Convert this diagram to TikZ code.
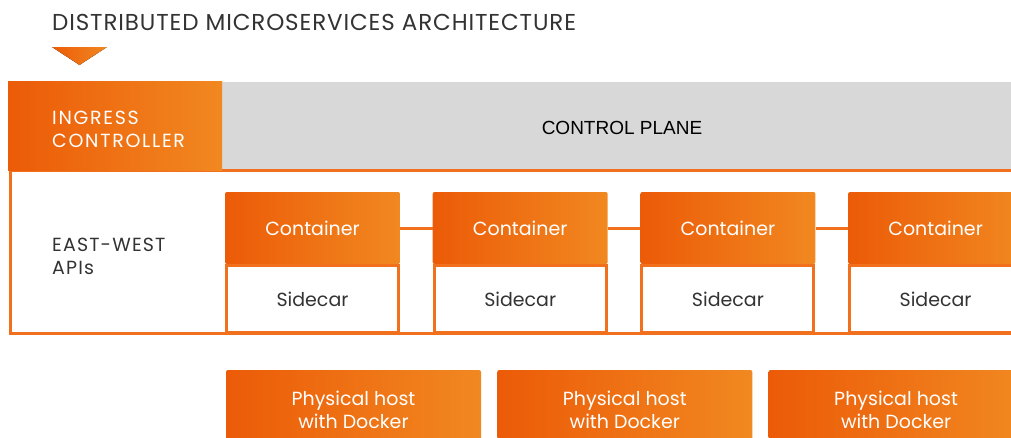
\documentclass[tikz,border=0pt]{standalone}
\usepackage{fontspec}
\setmainfont{Poppins}
\newfontfamily\planefont{Liberation Sans}
\usetikzlibrary{positioning}
\definecolor{darkorange}{RGB}{236,91,8}
\definecolor{lightorange}{RGB}{241,136,32}
\definecolor{lineorange}{RGB}{240,112,30}
\definecolor{planegray}{RGB}{216,216,216}
\definecolor{textgray}{RGB}{51,51,51}

\tikzset{
  orangefill/.style={left color=darkorange, right color=lightorange, inner sep=0pt},
  containerbox/.style={orangefill, rounded corners=2pt, minimum width=175pt, minimum height=72pt,
    text=white, font=\fontsize{19}{22}\selectfont},
  sidecarbox/.style={draw=lineorange, line width=3pt, fill=white,
    minimum width=172pt, minimum height=67pt, inner sep=0pt, text=textgray,
    font=\fontsize{19}{22}\selectfont},
  hostbox/.style={orangefill, rounded corners=2pt, minimum width=255pt, minimum height=80pt,
    align=center, text=white, font=\fontsize{19}{23}\selectfont},
  capslabel/.style={anchor=west, align=left, inner sep=0pt,
    font=\fontsize{19}{23}\selectfont\addfontfeature{LetterSpace=#1}},
  link/.style={lineorange, line width=3pt}
}

\begin{document}
\begin{tikzpicture}[x=1pt,y=-1pt]
  \useasboundingbox (0,0) rectangle (1011,437);
  \clip (0,0) rectangle (1011,437);

  % Title and marker
  \node[anchor=base west, inner sep=0pt, text=textgray,
    font=\fontsize{23}{26}\selectfont\addfontfeature{LetterSpace=3.8}]
    (title) at (52,30) {DISTRIBUTED MICROSERVICES ARCHITECTURE};
  \fill[orangefill] (52,47) -- (107,47) -- (79.5,65) -- cycle;

  % Outer frame
  \node[draw=lineorange, line width=3pt, minimum width=1030pt, minimum height=163pt]
    (frame) at (525,251.5) {};

  % Top band
  \node[fill=planegray, minimum width=800pt, minimum height=88pt, inner sep=0pt] (plane) at (622,126) {};
  \node[font=\planefont\fontsize{19}{22}\selectfont, text=black] (planelbl) at (622,128) {CONTROL PLANE};
  \draw[link, line width=2pt] (222,170) -- (1011,170);
  \node[orangefill, minimum width=214pt, minimum height=89pt] (ingress) at (115,126) {};
  \node[capslabel=9, text=white] (ingresslbl) at (52,129) {INGRESS\\CONTROLLER};

  % East-west label
  \node[capslabel=6, text=textgray] (ewlbl) at (52,256) {EAST-WEST\\APIs};

  % Containers with sidecars
  \foreach \i in {1,...,4} {
    \node[containerbox] (c\i) at ({312.5+(\i-1)*207.7},228) {Container};
    \node[sidecarbox, below=0pt of c\i] (s\i) {Sidecar};
  }
  \foreach \i/\j in {1/2,2/3,3/4}
    \draw[link] (c\i.east) -- (c\j.west);

  % Hosts
  \foreach \i in {1,2,3}
    \node[hostbox] (h\i) at ({353.5+(\i-1)*271.3},410) {Physical host\\with Docker};
\end{tikzpicture}
\end{document}
